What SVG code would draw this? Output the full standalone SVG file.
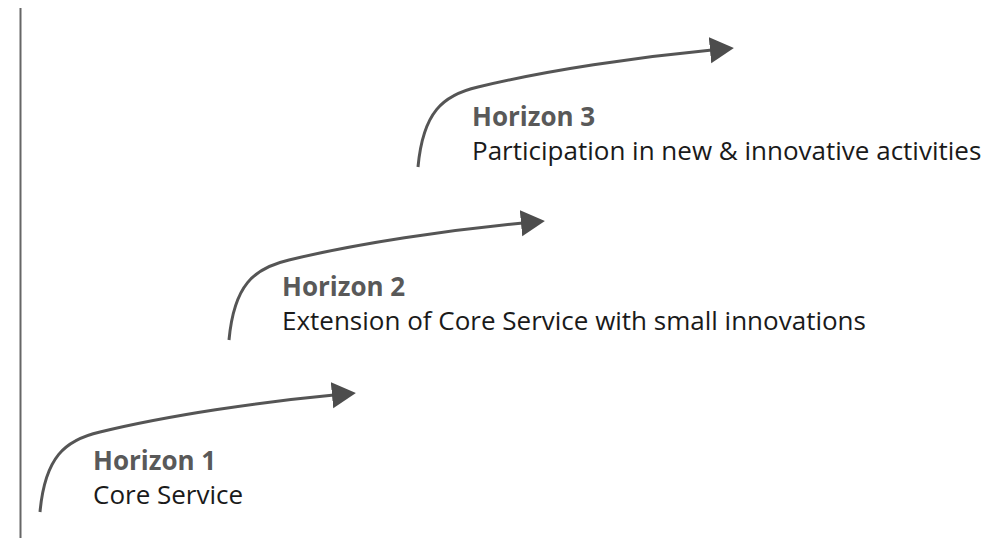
<svg xmlns="http://www.w3.org/2000/svg" width="1004" height="538" viewBox="0 0 1004 538">
<defs>
<marker id="ah" markerUnits="userSpaceOnUse" markerWidth="26" markerHeight="28" refX="2" refY="13" orient="auto">
<path d="M0,0 L24,13 L0,26 Z" fill="#4d4d4d"/>
</marker>
<style>
.c{fill:none;stroke:#555;stroke-width:3;marker-end:url(#ah)}
.t{font-family:"Open Sans","Noto Sans",sans-serif;font-size:26px}
.b{font-weight:bold;fill:#595959}
.r{fill:#1a1a1a}
</style>
</defs>
<line x1="20.5" y1="8" x2="20.5" y2="538" stroke="#666" stroke-width="2"/>
<g id="connectors">
<path class="c" transform="translate(40,512)" d="M0,0 C5,-55 25,-72 60,-80 C130,-97 220,-110 294,-117"/>
<path class="c" transform="translate(229,340)" d="M0,0 C5,-55 25,-72 60,-80 C130,-97 220,-110 294,-117"/>
<path class="c" transform="translate(418,167)" d="M0,0 C5,-55 25,-72 60,-80 C130,-97 220,-110 294,-117"/>
</g>
<g id="h1">
<text class="t b" x="93" y="470">Horizon 1</text>
<text class="t r" x="93" y="504">Core Service</text>
</g>
<g id="h2">
<text class="t b" x="282" y="296">Horizon 2</text>
<text class="t r" x="282" y="330">Extension of Core Service with small innovations</text>
</g>
<g id="h3">
<text class="t b" x="472" y="126">Horizon 3</text>
<text class="t r" x="472" y="160">Participation in new &amp; innovative activities</text>
</g>
</svg>
